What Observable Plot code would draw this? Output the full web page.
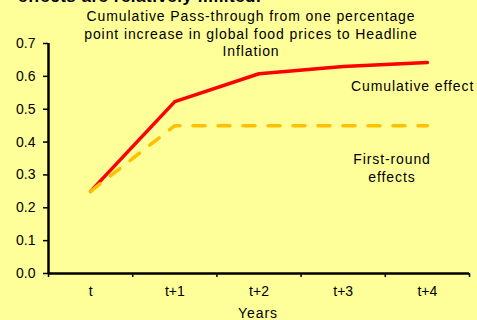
<!DOCTYPE html>
<html>
<head>
<meta charset="utf-8">
<script src="https://cdn.jsdelivr.net/npm/d3@7"></script>
<script src="https://cdn.jsdelivr.net/npm/@observablehq/plot@0.6"></script>
<style>
  html, body { margin: 0; padding: 0; background: #FFFF99; overflow: hidden; }
  #wrap { position: relative; width: 477px; height: 320px; font-family: "Liberation Sans", Arial, sans-serif; color: #000; }
  .t { position: absolute; white-space: nowrap; letter-spacing: 0.9px; }
</style>
</head>
<body>
<div id="wrap"></div>
<script>
const categories = ["t", "t+1", "t+2", "t+3", "t+4"];
const cumulative = [0.25, 0.523, 0.608, 0.630, 0.642];
const firstRound = [0.25, 0.45, 0.45, 0.45, 0.45];
const yTicks = [0, 0.1, 0.2, 0.3, 0.4, 0.5, 0.6, 0.7];
const titleLines = ["Cumulative Pass-through from one percentage", "point increase in global food prices to Headline", "Inflation"];
const headerText = "effects are relatively limited.";

const rows = [];
categories.forEach((c, i) => {
  rows.push({i, cat: c, series: "Cumulative effect", v: cumulative[i]});
  rows.push({i, cat: c, series: "First-round effects", v: firstRound[i]});
});
const idx = categories.map((_, i) => i);
const bounds = [-0.5, ...idx.map(i => i + 0.5)];

const chart = Plot.plot({
  width: 477,
  height: 320,
  marginTop: 43,
  marginLeft: 48,
  marginRight: 8,
  marginBottom: 47,
  style: {background: "transparent", fontFamily: "Liberation Sans, Arial, sans-serif", fontSize: "14px", color: "#000"},
  x: {type: "linear", domain: [-0.5, 4.5], axis: null},
  y: {domain: [0, 0.7], axis: null},
  marks: [
    Plot.axisY({ticks: yTicks, tickFormat: d3.format(".1f"), tickSize: 5, tickPadding: 8, fontSize: 14, stroke: "#000", strokeWidth: 1.5, label: null}),
    Plot.ruleX([-0.5], {stroke: "#000", strokeWidth: 2.5}),
    Plot.ruleY([0], {stroke: "#000", strokeWidth: 2.5}),
    Plot.axisX({ticks: bounds, tickFormat: null, tickSize: 4, stroke: "#000", strokeWidth: 1.5, text: null, label: null}),
    Plot.axisX({ticks: idx, tickFormat: i => categories[i], tickSize: 0, tickPadding: 13, fontSize: 14, label: null}),
    Plot.line(rows.filter(d => d.series === "Cumulative effect"), {x: "i", y: "v", stroke: "#FF0000", strokeWidth: 3.5}),
    Plot.line(rows.filter(d => d.series === "First-round effects"), {x: "i", y: "v", stroke: "#FFC000", strokeWidth: 3.5, strokeDasharray: "12,13"})
  ]
});
const wrap = document.getElementById("wrap");
chart.style.position = "absolute";
chart.style.left = "0px";
chart.style.top = "0px";
wrap.appendChild(chart);

function addText(txt, css) {
  const d = document.createElement("div");
  d.className = "t";
  d.textContent = txt;
  Object.assign(d.style, css);
  wrap.appendChild(d);
  return d;
}
addText(headerText, {left: "18px", top: "-13px", fontSize: "17px", fontWeight: "bold", lineHeight: "20px", letterSpacing: "0.5px"});
titleLines.forEach((l, k) => {
  addText(l, {left: "0px", width: "502px", textAlign: "center", top: (8 + k * 17.5) + "px", fontSize: "14px", lineHeight: "17px"});
});
addText("Cumulative effect", {left: "351px", top: "78px", fontSize: "14px", lineHeight: "17px"});
addText("First-round", {left: "340px", width: "104px", textAlign: "center", top: "151px", fontSize: "14px", lineHeight: "17px"});
addText("effects", {left: "340px", width: "104px", textAlign: "center", top: "169px", fontSize: "14px", lineHeight: "17px"});
addText("Years", {left: "208px", width: "100px", textAlign: "center", top: "305px", fontSize: "14px", lineHeight: "17px"});
</script>
</body>
</html>
